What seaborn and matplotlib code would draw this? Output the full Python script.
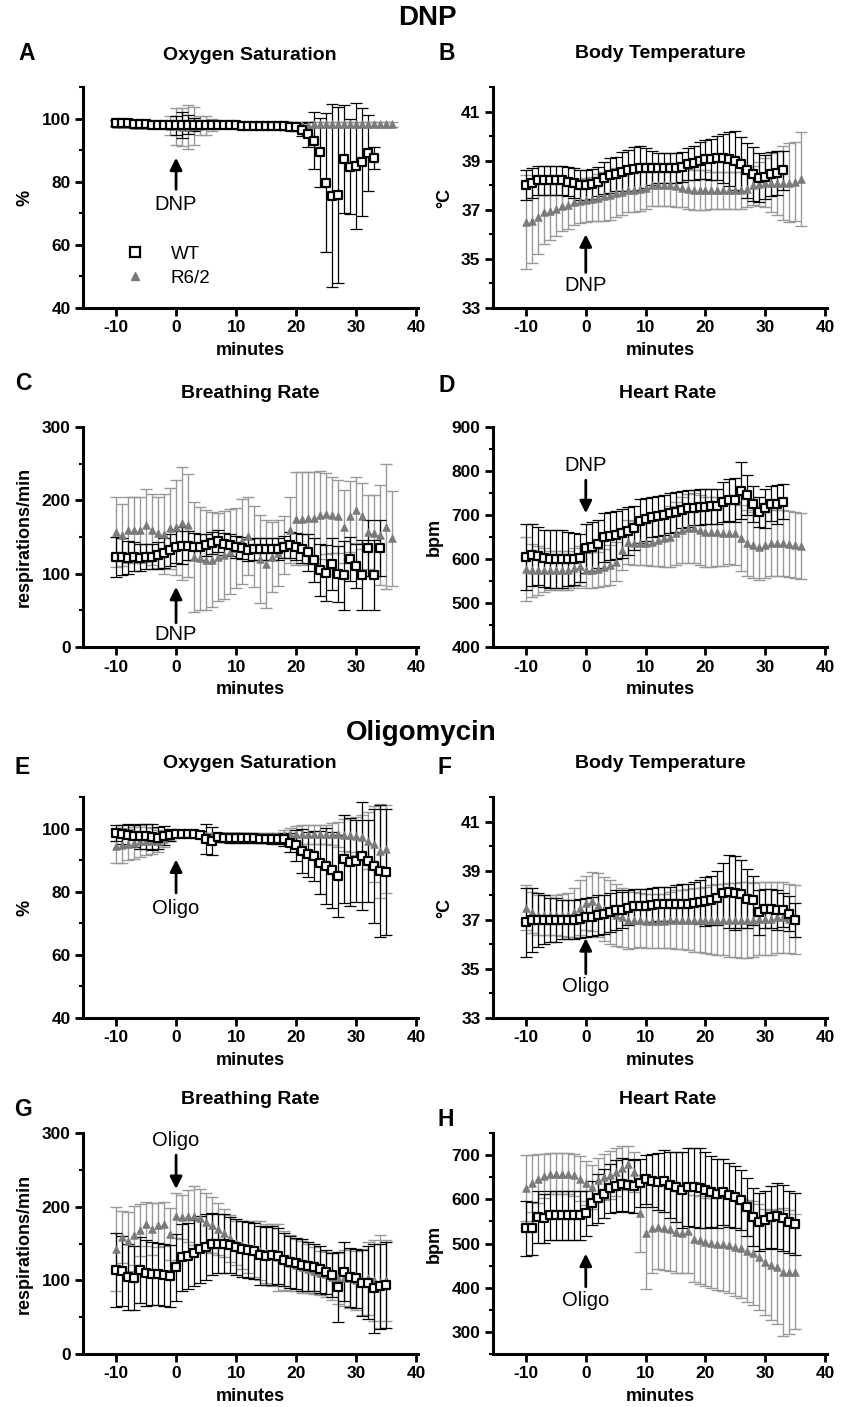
import numpy as np
import matplotlib
matplotlib.use("Agg")
import matplotlib.pyplot as plt
import seaborn as sns
from matplotlib.lines import Line2D
from matplotlib.ticker import MultipleLocator

# ---- minutes ----
dnp_wt_min = np.arange(-10, 34)
dnp_r62_min = np.arange(-10, 37)
dnp_br_wt_min = np.arange(-10, 35)
oli_min = np.arange(-10, 36)

# ---- DNP: oxygen saturation ----
dnp_o2_wt = [98.6, 98.5, 98.5, 98.4, 98.3, 98.2, 98.1, 98.0, 98.0, 97.9,
             97.9, 98.0, 98.0, 98.1, 98.1, 98.0, 98.0, 98.0, 97.9, 97.9,
             97.9, 97.8, 97.8, 97.8, 97.8, 97.7, 97.7, 97.6, 97.5, 97.4,
             97.2, 96.5, 95.0, 93.0, 89.3, 79.7, 75.5, 75.8, 87.2, 84.8,
             84.9, 86.2, 89.0, 87.5]
dnp_o2_wt_err = [1, 1, 1, 1, 1, 1, 1, 1, 1, 1,
                 3, 4, 3, 2, 1, 1, 1, 1, 1, 1,
                 1, 1, 1, 1, 1, 1, 1, 1, 1, 1,
                 1, 2, 4, 9, 11, 22, 29, 28, 17, 15,
                 20, 17, 12, 3.5]
dnp_o2_r62 = [98.3, 98.2, 98.2, 98.1, 98.1, 98.0, 98.0, 98.0, 97.9, 97.8,
              97.5, 97.3, 97.4, 97.6, 97.8, 97.9, 98.0, 98.0, 98.0, 98.0,
              98.0, 98.0, 98.0, 98.0, 98.0, 98.0, 98.0, 98.0, 98.0, 98.1,
              98.1, 98.1, 98.1, 98.2, 98.2, 98.2, 98.2, 98.2, 98.2, 98.2,
              98.2, 98.2, 98.2, 98.2, 98.2, 98.2, 98.2]
dnp_o2_r62_err = [0.8, 0.8, 0.8, 0.8, 0.8, 0.8, 0.8, 0.8, 1, 3,
                  6, 6, 7, 6, 3, 3, 2, 1, 1, 1,
                  0.8, 0.8, 0.8, 0.8, 0.8, 0.8, 0.8, 0.8, 0.8, 0.8,
                  0.8, 0.8, 0.8, 0.8, 0.8, 0.8, 0.8, 0.8, 0.8, 0.8,
                  0.8, 0.8, 0.8, 0.8, 0.8, 0.8, 0.8]

# ---- DNP: body temperature ----
dnp_t_wt = [38.0, 38.1, 38.2, 38.2, 38.2, 38.2, 38.2, 38.15, 38.1, 38.0,
            38.0, 38.05, 38.15, 38.3, 38.4, 38.45, 38.55, 38.6, 38.65, 38.7,
            38.7, 38.7, 38.7, 38.7, 38.7, 38.7, 38.75, 38.85, 38.9, 39.0,
            39.05, 39.05, 39.1, 39.1, 39.05, 39.0, 38.85, 38.6, 38.45, 38.3,
            38.35, 38.45, 38.5, 38.6]
dnp_t_wt_err = [0.6, 0.6, 0.6, 0.6, 0.6, 0.6, 0.6, 0.6, 0.6, 0.6,
                0.6, 0.6, 0.6, 0.65, 0.7, 0.7, 0.8, 0.85, 0.9, 0.9,
                0.8, 0.7, 0.6, 0.6, 0.6, 0.6, 0.6, 0.65, 0.7, 0.75,
                0.8, 0.85, 0.9, 1.0, 1.1, 1.2, 1.1, 1.1, 1.1, 1.0,
                0.9, 0.9, 0.9, 0.8]
dnp_t_r62 = [36.5, 36.55, 36.7, 36.9, 36.95, 37.05, 37.15, 37.2, 37.3, 37.35,
             37.4, 37.45, 37.5, 37.55, 37.6, 37.7, 37.72, 37.8, 37.82, 37.85,
             37.9, 38.0, 38.0, 38.0, 38.0, 37.95, 37.9, 37.85, 37.8, 37.8,
             37.8, 37.8, 37.8, 37.8, 37.8, 37.8, 37.8, 37.85, 38.0, 38.05,
             38.1, 38.1, 38.1, 38.1, 38.1, 38.15, 38.25]
dnp_t_r62_err = [1.9, 1.7, 1.5, 1.3, 1.2, 1.1, 1.0, 1.0, 0.9, 0.9,
                 0.9, 0.9, 0.95, 1.0, 1.0, 1.0, 0.95, 0.9, 0.9, 0.9,
                 0.85, 0.85, 0.85, 0.85, 0.85, 0.85, 0.8, 0.8, 0.8, 0.8,
                 0.8, 0.75, 0.75, 0.75, 0.75, 0.75, 0.75, 0.75, 0.8, 0.9,
                 1.0, 1.2, 1.3, 1.5, 1.6, 1.6, 1.9]

# ---- DNP: breathing rate ----
dnp_br_wt = [123, 123, 122, 123, 122, 123, 123, 125, 128, 132,
             136, 138, 138, 137, 136, 139, 142, 144, 141, 139,
             137, 135, 132, 133, 134, 134, 133, 134, 136, 139,
             137, 134, 129, 119, 105, 101, 113, 100, 98, 120,
             110, 98, 135, 98, 135]
dnp_br_wt_err = [27, 25, 22, 20, 18, 17, 17, 18, 20, 22,
                 22, 25, 20, 18, 18, 15, 15, 15, 15, 15,
                 15, 15, 15, 15, 15, 15, 15, 15, 15, 18,
                 18, 20, 25, 30, 36, 38, 35, 38, 47, 30,
                 30, 48, 38, 48, 38]
dnp_br_r62 = [157, 153, 160, 160, 159, 166, 160, 156, 154, 162,
              163, 169, 166, 123, 121, 119, 119, 123, 125, 130,
              135, 144, 151, 137, 120, 113, 123, 128, 139, 160,
              175, 175, 176, 176, 180, 182, 180, 178, 164, 178,
              187, 178, 157, 155, 153, 164, 148]
dnp_br_r62_err = [48, 42, 45, 45, 45, 50, 48, 48, 55, 55,
                  65, 77, 70, 75, 70, 68, 65, 60, 60, 58,
                  55, 58, 53, 55, 60, 60, 48, 45, 40, 45,
                  63, 63, 63, 62, 60, 55, 52, 50, 50, 48,
                  45, 45, 50, 52, 68, 85, 65]

# ---- DNP: heart rate ----
dnp_hr_wt = [605, 609, 607, 602, 600, 600, 600, 600, 600, 602,
             624, 628, 634, 649, 652, 655, 658, 664, 670, 687,
             690, 695, 698, 700, 704, 707, 712, 715, 717, 718,
             719, 720, 720, 730, 734, 735, 755, 745, 725, 707,
             715, 726, 724, 730]
dnp_hr_wt_err = [75, 70, 65, 65, 65, 65, 65, 62, 60, 55,
                 55, 55, 55, 55, 55, 55, 55, 55, 50, 50,
                 48, 45, 45, 45, 45, 45, 42, 42, 40, 40,
                 40, 40, 40, 45, 48, 50, 65, 45, 40, 35,
                 45, 40, 45, 40]
dnp_hr_r62 = [577, 574, 574, 574, 574, 574, 574, 574, 579, 584,
              574, 575, 577, 581, 587, 594, 620, 639, 637, 636,
              636, 639, 643, 647, 651, 658, 666, 670, 670, 666,
              662, 662, 662, 660, 660, 658, 647, 636, 632, 628,
              632, 636, 637, 636, 634, 632, 630]
dnp_hr_r62_err = [73, 60, 55, 50, 45, 45, 45, 45, 45, 45,
                  40, 40, 40, 42, 45, 45, 45, 50, 50, 50,
                  50, 55, 60, 65, 70, 72, 75, 78, 80, 80,
                  80, 80, 78, 75, 72, 72, 75, 75, 75, 75,
                  75, 75, 75, 75, 75, 75, 75]

# ---- Oligomycin: oxygen saturation ----
oli_o2_wt = [98.7, 98.2, 97.9, 97.6, 97.5, 97.5, 97.3, 97.1, 97.7, 98.0,
             98.2, 98.2, 98.2, 98.2, 98.1, 96.6, 96.1, 97.2, 97.1, 97.0,
             97.0, 97.0, 96.9, 96.9, 96.8, 96.8, 96.7, 96.7, 96.6, 95.5,
             94.7, 92.9, 91.8, 91.3, 89.2, 88.1, 86.8, 84.9, 90.4, 89.4,
             89.7, 91.3, 89.7, 88.1, 86.5, 86.2]
oli_o2_wt_err = [2.5, 3, 3.5, 3.5, 4, 4, 4, 3.5, 3, 2,
                 1, 1, 1, 1, 1, 4.7, 4.5, 1.5, 1.5, 1.5,
                 1.5, 1.5, 1.5, 1.5, 1.5, 1.5, 1.5, 1.5, 2, 3,
                 5, 7, 7, 8, 10, 12, 12, 13, 14, 14,
                 13, 17, 13, 18, 21, 20]
oli_o2_r62 = [94.5, 94.7, 95.0, 95.5, 96.1, 96.1, 96.1, 96.1, 96.8, 97.7,
              98.2, 98.2, 98.2, 98.2, 98.2, 97.7, 97.7, 97.7, 97.7, 97.7,
              97.7, 97.7, 97.7, 97.7, 97.7, 97.7, 97.7, 97.7, 97.9, 98.2,
              98.2, 98.2, 98.2, 98.2, 98.2, 98.2, 98.2, 98.2, 98.0, 98.0,
              97.7, 97.2, 96.1, 95.0, 92.9, 93.6]
oli_o2_r62_err = [5.5, 5.5, 5, 5, 5, 4.5, 4, 3.5, 2.5, 1.5,
                  1, 1, 1, 1, 1, 1, 1, 1, 1, 1,
                  1, 1, 1, 1, 1, 1, 1, 1, 1.5, 2,
                  2.5, 3, 3, 3, 3, 3, 3.5, 4, 5, 5.5,
                  6, 7, 9, 12, 15, 14]

# ---- Oligomycin: body temperature ----
oli_t_wt = [36.9, 37.0, 37.0, 37.0, 37.0, 37.0, 37.0, 37.0, 37.0, 37.05,
            37.1, 37.12, 37.2, 37.22, 37.3, 37.4, 37.4, 37.5, 37.55, 37.55,
            37.55, 37.6, 37.65, 37.65, 37.65, 37.65, 37.65, 37.65, 37.7, 37.72,
            37.75, 37.8, 37.9, 38.1, 38.15, 38.1, 38.05, 37.85, 37.8, 37.3,
            37.45, 37.45, 37.4, 37.4, 37.25, 37.0]
oli_t_wt_err = [1.4, 1.3, 1.1, 1.0, 0.9, 0.9, 0.8, 0.8, 0.8, 0.8,
                0.8, 0.8, 0.8, 0.8, 0.8, 0.8, 0.75, 0.7, 0.7, 0.7,
                0.7, 0.7, 0.7, 0.7, 0.7, 0.75, 0.8, 0.8, 0.85, 0.9,
                1.0, 1.0, 1.1, 1.2, 1.5, 1.5, 1.4, 1.2, 1.0, 0.9,
                0.8, 0.8, 0.8, 0.7, 0.7, 0.7]
oli_t_r62 = [37.5, 37.3, 37.2, 37.2, 37.2, 37.2, 37.2, 37.2, 37.3, 37.5,
             37.7, 37.75, 37.6, 37.45, 37.3, 37.2, 37.1, 37.0, 37.0, 36.98,
             36.95, 36.95, 36.95, 36.97, 37.0, 37.0, 37.0, 37.0, 37.0, 37.0,
             37.0, 37.0, 37.0, 37.0, 37.0, 37.0, 37.0, 37.0, 37.0, 37.05,
             37.05, 37.05, 37.1, 37.1, 37.05, 37.0]
oli_t_r62_err = [0.9, 0.85, 0.8, 0.8, 0.8, 0.8, 0.85, 0.9, 1.0, 1.1,
                 1.1, 1.2, 1.3, 1.3, 1.3, 1.25, 1.2, 1.2, 1.15, 1.1,
                 1.1, 1.1, 1.1, 1.1, 1.15, 1.2, 1.2, 1.25, 1.3, 1.3,
                 1.35, 1.4, 1.45, 1.45, 1.5, 1.5, 1.55, 1.55, 1.5, 1.5,
                 1.5, 1.5, 1.45, 1.45, 1.4, 1.4]

# ---- Oligomycin: breathing rate ----
oli_br_wt = [114, 112.5, 105, 103, 114, 110, 109, 109, 107, 106,
             117.5, 131, 133, 137, 142, 145.5, 149, 150, 150, 148,
             145, 143, 141, 140, 134, 133, 134, 133, 128, 125,
             123, 121, 119, 117.5, 115, 111.6, 107, 91, 111.6, 104,
             103, 96, 97, 89, 92, 93.5]
oli_br_wt_err = [50, 48, 45, 43, 45, 45, 43, 42, 42, 42,
                 45, 45, 45, 45, 45, 45, 42, 40, 40, 38,
                 38, 38, 38, 38, 40, 40, 40, 38, 36, 35,
                 35, 35, 33, 32, 32, 30, 30, 47, 40, 40,
                 40, 45, 50, 60, 58, 58]
oli_br_r62 = [143, 159, 153, 161, 168, 176, 170, 175, 176, 163,
              188, 186, 187, 187.5, 184, 179, 175, 170, 164, 157,
              151, 148, 145.5, 143, 140, 136.5, 134, 131, 127, 124,
              121, 118, 116, 113, 110, 108, 105, 102.6, 102.6, 102.6,
              100, 98, 102.6, 100, 98, 100]
oli_br_r62_err = [57, 35, 40, 40, 35, 30, 35, 30, 30, 35,
                  30, 30, 35, 40, 40, 40, 38, 35, 33, 32,
                  30, 32, 35, 38, 40, 40, 42, 45, 40, 38,
                  35, 35, 33, 32, 30, 30, 32, 35, 38, 40,
                  40, 45, 50, 55, 63, 55]

# ---- Oligomycin: heart rate ----
oli_hr_wt = [534, 534, 560, 557, 564, 564, 564, 564, 564, 564,
             568, 592, 602, 613, 625, 630, 634, 632, 630, 637,
             645, 642, 640, 642, 632, 628, 621, 628, 627, 625,
             621, 617, 613, 617, 609, 606, 598, 583, 560, 549,
             553, 560, 562, 557, 549, 545]
oli_hr_wt_err = [62, 60, 58, 55, 55, 55, 55, 55, 55, 55,
                 50, 50, 55, 55, 55, 58, 60, 60, 60, 55,
                 55, 60, 65, 70, 75, 80, 85, 88, 90, 90,
                 85, 80, 78, 75, 72, 70, 68, 65, 65, 65,
                 65, 70, 75, 75, 70, 70]
oli_hr_r62 = [625, 636, 647, 652, 658, 658, 658, 658, 655, 647,
              636, 628, 643, 651, 655, 662, 670, 680, 662, 568,
              523, 534, 538, 534, 532, 526, 524, 528, 511, 508,
              504, 502, 500, 498, 496, 492, 489, 483, 479, 470,
              458, 451, 447, 436, 436, 436]
oli_hr_r62_err = [75, 65, 55, 50, 47, 47, 47, 47, 48, 50,
                  50, 50, 50, 52, 55, 55, 50, 40, 45, 87,
                  125, 100, 95, 95, 95, 92, 90, 95, 98, 100,
                  100, 102, 105, 105, 108, 110, 112, 115, 118, 120,
                  120, 125, 130, 145, 140, 130]

sns.set_style("ticks", {'axes.edgecolor': 'black', 'text.color': 'black',
                        'axes.labelcolor': 'black', 'xtick.color': 'black',
                        'ytick.color': 'black'})
plt.rcParams['font.family'] = ['Liberation Sans', 'DejaVu Sans']
plt.rcParams['axes.unicode_minus'] = False
plt.rcParams['text.color'] = 'black'

W, H = 843, 1407
fig = plt.figure(figsize=(W / 100, H / 100), dpi=100)

wt_color = 'black'
r62_color = '#7a7a7a'
r62_err_color = '#999999'


def px_axes(x0, x1, top, bottom):
    return fig.add_axes([x0 / W, 1 - bottom / H, (x1 - x0) / W, (bottom - top) / H])


def draw_panel(ax, wt_x, wt_y, wt_e, r_x, r_y, r_e, ylim, yticks, yminor, ylabel):
    ax.errorbar(r_x, r_y, yerr=r_e, fmt='none', ecolor=r62_err_color,
                elinewidth=1.0, capsize=4, capthick=1.0, zorder=2)
    ax.errorbar(wt_x, wt_y, yerr=wt_e, fmt='none', ecolor=wt_color,
                elinewidth=0.9, capsize=4, capthick=0.9, zorder=3)
    sns.scatterplot(x=r_x, y=r_y, marker='^', s=30, color=r62_color,
                    edgecolor=r62_color, linewidth=0.5, ax=ax, zorder=4)
    sns.scatterplot(x=wt_x, y=wt_y, marker='s', s=38, facecolor='white',
                    edgecolor=wt_color, linewidth=1.6, ax=ax, zorder=5)
    ax.set_xlim(-15.5, 40.3)
    ax.set_ylim(*ylim)
    ax.set_xticks([-10, 0, 10, 20, 30, 40])
    ax.set_yticks(yticks)
    ax.yaxis.set_minor_locator(MultipleLocator(yminor))
    sns.despine(ax=ax)
    for sp in ['left', 'bottom']:
        ax.spines[sp].set_linewidth(2.2)
        ax.spines[sp].set_color('black')
    ax.tick_params(axis='both', which='major', length=6, width=2, labelsize=12.5,
                   direction='out', pad=3, colors='black')
    ax.tick_params(axis='y', which='minor', length=3, width=1.5, colors='black')
    for lab in ax.get_xticklabels() + ax.get_yticklabels():
        lab.set_fontweight('bold')
    ax.set_xlabel('minutes', fontsize=13, fontweight='bold', labelpad=5, color='black')
    ax.set_ylabel(ylabel, fontsize=13, fontweight='bold', labelpad=6, color='black')


def arrow(ax, tip, tail, text_y, label):
    ax.annotate('', xy=(0, tip), xytext=(0, tail),
                arrowprops=dict(arrowstyle='-|>', lw=2, color='black',
                                mutation_scale=18, shrinkA=0, shrinkB=0))
    ax.text(0, text_y, label, ha='center', va='center', fontsize=14.5, color='black')


rows = [(87, 308), (427, 647), (797, 1018), (1133, 1354)]
lx = (83, 418)
rx = (493, 827)

axA = px_axes(lx[0], lx[1], *rows[0])
draw_panel(axA, dnp_wt_min, dnp_o2_wt, dnp_o2_wt_err, dnp_r62_min, dnp_o2_r62, dnp_o2_r62_err,
           (40, 110), [40, 60, 80, 100], 10, '%')
arrow(axA, 87.6, 77.6, 72.8, 'DNP')
handles = [Line2D([], [], marker='s', ls='none', mfc='white', mec='black', mew=1.6, ms=6.5),
           Line2D([], [], marker='^', ls='none', mfc=r62_color, mec=r62_color, ms=5.5)]
axA.legend(handles, ['WT', 'R6/2'], loc='lower left', bbox_to_anchor=(0.05, 0.02),
           frameon=False, fontsize=13.5, handletextpad=0.9, labelspacing=0.35)

axB = px_axes(rx[0], rx[1], *rows[0])
draw_panel(axB, dnp_wt_min, dnp_t_wt, dnp_t_wt_err, dnp_r62_min, dnp_t_r62, dnp_t_r62_err,
           (33, 42), [33, 35, 37, 39, 41], 1, '°C')
arrow(axB, 36.0, 34.45, 33.9, 'DNP')

axC = px_axes(lx[0], lx[1], *rows[1])
draw_panel(axC, dnp_br_wt_min, dnp_br_wt, dnp_br_wt_err, dnp_r62_min, dnp_br_r62, dnp_br_r62_err,
           (0, 300), [0, 100, 200, 300], 50, 'respirations/min')
arrow(axC, 82, 33, 17, 'DNP')

axD = px_axes(rx[0], rx[1], *rows[1])
draw_panel(axD, dnp_wt_min, dnp_hr_wt, dnp_hr_wt_err, dnp_r62_min, dnp_hr_r62, dnp_hr_r62_err,
           (400, 900), [400, 500, 600, 700, 800, 900], 50, 'bpm')
arrow(axD, 704, 779, 813, 'DNP')

axE = px_axes(lx[0], lx[1], *rows[2])
draw_panel(axE, oli_min, oli_o2_wt, oli_o2_wt_err, oli_min, oli_o2_r62, oli_o2_r62_err,
           (40, 110), [40, 60, 80, 100], 10, '%')
arrow(axE, 90.2, 79.6, 74.8, 'Oligo')

axF = px_axes(rx[0], rx[1], *rows[2])
draw_panel(axF, oli_min, oli_t_wt, oli_t_wt_err, oli_min, oli_t_r62, oli_t_r62_err,
           (33, 42), [33, 35, 37, 39, 41], 1, '°C')
arrow(axF, 36.25, 34.8, 34.27, 'Oligo')

axG = px_axes(lx[0], lx[1], *rows[3])
draw_panel(axG, oli_min, oli_br_wt, oli_br_wt_err, oli_min, oli_br_r62, oli_br_r62_err,
           (0, 300), [0, 100, 200, 300], 50, 'respirations/min')
arrow(axG, 224, 270, 290, 'Oligo')

axH = px_axes(rx[0], rx[1], *rows[3])
draw_panel(axH, oli_min, oli_hr_wt, oli_hr_wt_err, oli_min, oli_hr_r62, oli_hr_r62_err,
           (250, 750), [300, 400, 500, 600, 700], 50, 'bpm')
arrow(axH, 477, 402, 372, 'Oligo')


def fig_text(x, y, s, **kw):
    fig.text(x / W, 1 - y / H, s, ha='center', va='center', color='black', **kw)


fig_text(427, 18, 'DNP', fontsize=20, fontweight='bold')
fig_text(421, 733, 'Oligomycin', fontsize=20, fontweight='bold')

titles = [('A', 27, 54, 'Oxygen Saturation', 250, 55),
          ('B', 447, 54, 'Body Temperature', 660, 54),
          ('C', 23, 383, 'Breathing Rate', 250, 393),
          ('D', 447, 385, 'Heart Rate', 668, 393),
          ('E', 22, 768, 'Oxygen Saturation', 250, 763),
          ('F', 445, 768, 'Body Temperature', 660, 763),
          ('G', 23, 1110, 'Breathing Rate', 250, 1099),
          ('H', 446, 1120, 'Heart Rate', 668, 1099)]
for letter, lxp, lyp, title, txp, typ in titles:
    fig_text(lxp, lyp, letter, fontsize=16.5, fontweight='bold')
    fig_text(txp, typ, title, fontsize=14, fontweight='bold')

fig.savefig('out.png', dpi=100)
